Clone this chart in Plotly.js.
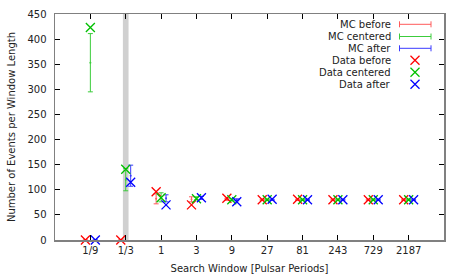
<!DOCTYPE html>
<html>
<head>
<meta charset="utf-8">
<script src="https://cdn.plot.ly/plotly-3.0.1.min.js"></script>
<style>html,body{margin:0;padding:0;background:#fff;}#chart{width:463px;height:278px;}</style>
</head>
<body>
<div id="chart"></div>
<script>
// Categories (search window in pulsar periods)
var categories = ['1/9', '1/3', '1', '3', '9', '27', '81', '243', '729', '2187'];

// Data points
var dataBefore   = [0, 0, 96, 70, 83, 80, 81, 80, 80, 80];
var dataCentered = [423, 141, 84, 82, 80, 80, 80, 80, 80, 80];
var dataAfter    = [0, 115, 70, 84, 76, 81, 80, 80, 80, 80];

// Monte Carlo values and errors
var mcBefore      = [0, 0, 82, 81, 81, 80, 80, 80, 80, 80];
var mcBeforeErr   = [0, 0, 10, 5, 2, 1, 1, 1, 1, 1];
var mcCentered    = [353, 120, 85, 83, 80, 80, 80, 80, 80, 80];
var mcCenteredErr = [58, 22, 9, 3, 2, 1, 1, 1, 1, 1];
var mcAfter       = [0, 128, 83, 84, 80, 80, 80, 80, 80, 80];
var mcAfterErr    = [0, 21, 7, 3, 2, 1, 1, 1, 1, 1];

var legendNames = ['MC before', 'MC centered', 'MC after', 'Data before', 'Data centered', 'Data after'];

var idx = categories.map(function (c, i) { return i; });
function shift(d) { return idx.map(function (i) { return i + d; }); }
var OFF = 0.14;

var redMC = '#ff5a5a', greenMC = '#3ccc3c', blueMC = '#3a3aff';
var red = '#ff0000', green = '#00c000', blue = '#0000ff';

function mcTrace(x, y, e, col) {
  return {
    x: x, y: y, type: 'scatter', mode: 'markers', showlegend: false, cliponaxis: false,
    marker: {size: 2, color: col},
    error_y: {type: 'data', array: e, visible: true, color: col, thickness: 1, width: 2.5}
  };
}
function dataTrace(x, y, col) {
  return {
    x: x, y: y, type: 'scatter', mode: 'markers', showlegend: false, cliponaxis: false,
    marker: {symbol: 'x-thin-open', size: 9, line: {color: col, width: 1.3}, color: col}
  };
}

var traces = [
  mcTrace(shift(-OFF), mcBefore, mcBeforeErr, redMC),
  mcTrace(shift(0), mcCentered, mcCenteredErr, greenMC),
  mcTrace(shift(OFF), mcAfter, mcAfterErr, blueMC),
  dataTrace(shift(-OFF), dataBefore, red),
  dataTrace(shift(0), dataCentered, green),
  dataTrace(shift(OFF), dataAfter, blue)
];

// custom gnuplot-style legend
var W = 463, H = 278, L = 55, R = 19, T = 14, B = 38;
var pw = W - L - R, ph = H - T - B;
function px(x) { return (x - L) / pw; }
function py(y) { return (H - B - y) / ph; }
var rowY = [24.3, 36.5, 48.3, 60.2, 72.3, 84.3];
var cols = [redMC, greenMC, blueMC, red, green, blue];
var annotations = [], shapes = [];
shapes.push({type: 'rect', xref: 'x', yref: 'paper', x0: 0.92, x1: 1.08, y0: 0, y1: 1,
  fillcolor: '#d0d0d0', line: {width: 0}, layer: 'below'});
legendNames.forEach(function (n, i) {
  var y = rowY[i];
  annotations.push({xref: 'paper', yref: 'paper', x: px(393), y: py(y), text: n, showarrow: false,
    xanchor: 'right', yanchor: 'middle', font: {family: 'DejaVu Sans', size: 10, color: '#222'}});
  if (i < 3) {
    shapes.push({type: 'line', xref: 'paper', yref: 'paper', x0: px(399.5), x1: px(431), y0: py(y), y1: py(y), line: {color: cols[i], width: 1}});
    shapes.push({type: 'line', xref: 'paper', yref: 'paper', x0: px(399.5), x1: px(399.5), y0: py(y - 3), y1: py(y + 3), line: {color: cols[i], width: 1}});
    shapes.push({type: 'line', xref: 'paper', yref: 'paper', x0: px(431), x1: px(431), y0: py(y - 3), y1: py(y + 3), line: {color: cols[i], width: 1}});
  } else {
    shapes.push({type: 'line', xref: 'paper', yref: 'paper', x0: px(410.5), x1: px(419.5), y0: py(y - 4.5), y1: py(y + 4.5), line: {color: cols[i], width: 1.3}});
    shapes.push({type: 'line', xref: 'paper', yref: 'paper', x0: px(410.5), x1: px(419.5), y0: py(y + 4.5), y1: py(y - 4.5), line: {color: cols[i], width: 1.3}});
  }
});

var axFont = {family: 'DejaVu Sans', size: 10, color: '#222'};
var layout = {
  width: W, height: H,
  margin: {l: L, r: R, t: T, b: B},
  paper_bgcolor: '#fff', plot_bgcolor: '#fff',
  font: axFont,
  showlegend: false,
  xaxis: {
    range: [-1, 10], tickvals: idx, ticktext: categories,
    ticks: 'inside', ticklen: 5, tickcolor: '#000', tickwidth: 1,
    showline: true, linecolor: '#808080', linewidth: 1.5, mirror: 'ticks',
    showgrid: false, zeroline: false, tickfont: axFont,
    title: {text: 'Search Window [Pulsar Periods]', font: axFont, standoff: 10}
  },
  yaxis: {
    range: [0, 450], dtick: 50,
    ticks: 'inside', ticklen: 5, tickcolor: '#000', tickwidth: 1,
    showline: true, linecolor: '#808080', linewidth: 1.5, mirror: 'ticks',
    showgrid: false, zeroline: true, zerolinecolor: '#000', zerolinewidth: 1.5,
    tickfont: axFont, ticklabelstandoff: 5,
    title: {text: 'Number of Events per Window Length', font: axFont, standoff: 10}
  },
  shapes: shapes,
  annotations: annotations
};

Plotly.newPlot('chart', traces, layout, {staticPlot: true, displayModeBar: false});
</script>
</body>
</html>
